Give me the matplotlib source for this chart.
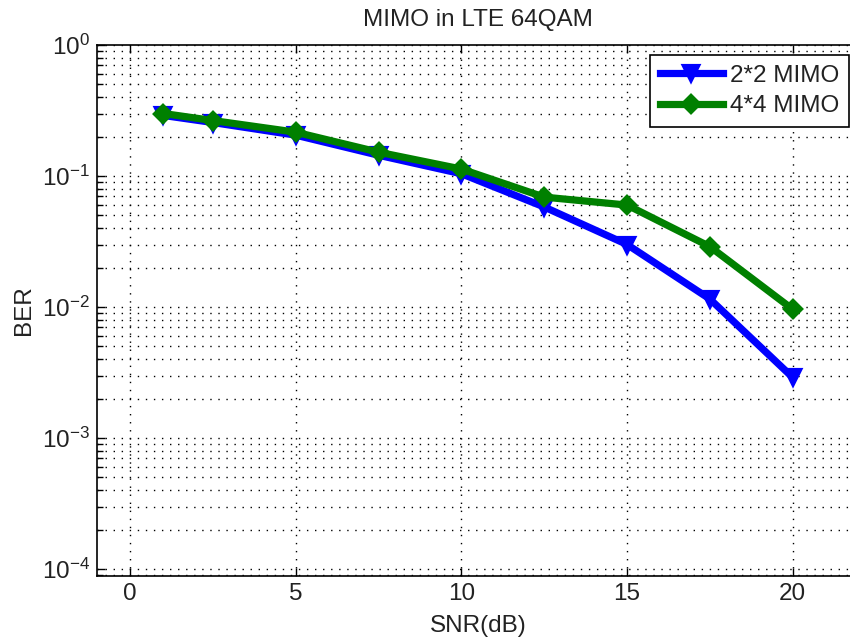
import matplotlib
matplotlib.use('Agg')
import matplotlib.pyplot as plt
from matplotlib.ticker import MultipleLocator, LogLocator

plt.rcParams['font.family'] = ['Liberation Sans', 'DejaVu Sans']
plt.rcParams['mathtext.default'] = 'regular'
plt.rcParams['axes.unicode_minus'] = False

# SNR points and BER values
SNR = [1, 2.5, 5, 7.5, 10, 12.5, 15, 17.5, 20]
BER_2X2 = [0.290, 0.256, 0.205, 0.144, 0.104, 0.058, 0.030, 0.0115, 0.0029]
BER_4X4 = [0.300, 0.265, 0.216, 0.152, 0.113, 0.069, 0.060, 0.0289, 0.0096]
LABELS = ['2*2 MIMO', '4*4 MIMO']

TXT = '#222222'
FS = 17.5

fig = plt.figure(figsize=(8.5, 6.41), dpi=100)
# axes runs a little past the right edge, as in the cropped original
ax = fig.add_axes([97 / 850, 1 - 576 / 641, (859 - 97) / 850, (576 - 45) / 641])

ax.semilogy(SNR, BER_2X2, color=(0, 0, 1), linewidth=5.2, marker='v',
            markersize=10, markeredgewidth=3, label=LABELS[0])
ax.semilogy(SNR, BER_4X4, color=(0, 0.5, 0), linewidth=5.2, marker='D',
            markersize=8.5, markeredgewidth=3, label=LABELS[1])

ax.set_xlim(-1, 22)
ax.set_ylim(8.85e-5, 1)
ax.xaxis.set_major_locator(MultipleLocator(5))
ax.yaxis.set_major_locator(LogLocator(base=10, numticks=10))
ax.yaxis.set_minor_locator(LogLocator(base=10, subs=range(2, 10), numticks=20))

dots = (0, (1, 4.8))
ax.grid(True, which='major', axis='both', linestyle=dots, color='black', linewidth=1.0)
ax.grid(True, which='minor', axis='y', linestyle=dots, color='black', linewidth=1.0)

ax.tick_params(which='both', direction='in', top=True, right=True, labelsize=FS,
               colors=TXT, pad=5)
ax.tick_params(which='major', length=6, width=1, color='black')
ax.tick_params(which='minor', length=4, width=1, color='black')
for s in ax.spines.values():
    s.set_linewidth(1.2)
    s.set_color('black')

ax.set_title('MIMO in LTE 64QAM', fontsize=FS, color=TXT, pad=14)
ax.set_xlabel('SNR(dB)', fontsize=FS, color=TXT, labelpad=7)
ax.set_ylabel('BER', fontsize=FS, color=TXT, labelpad=5)

leg = ax.legend(loc='upper right', bbox_to_anchor=(849 / 850, 1 - 55 / 641),
                bbox_transform=fig.transFigure, borderaxespad=0, fontsize=FS,
                fancybox=False, framealpha=1, edgecolor='black', handlelength=2.6,
                labelspacing=0.35, borderpad=0.4, handletextpad=0.3)
leg.get_frame().set_linewidth(1.2)
for t in leg.get_texts():
    t.set_color(TXT)

fig.savefig('out.png', dpi=100)
